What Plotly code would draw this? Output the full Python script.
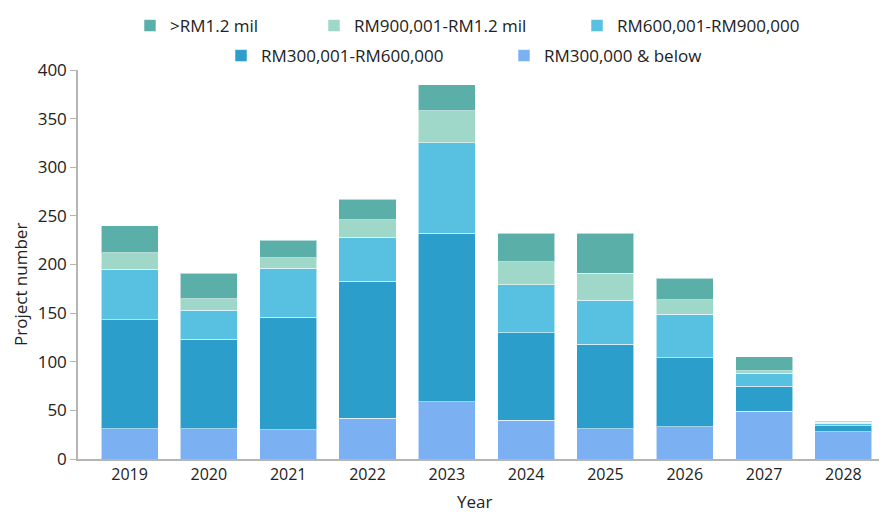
import plotly.graph_objects as go

years = ["2019", "2020", "2021", "2022", "2023", "2024", "2025", "2026", "2027", "2028"]

below_300k = [31, 31, 30, 42, 59, 40, 31, 33, 49, 28]
rm300k_600k = [112, 92, 116, 141, 173, 90, 87, 71, 26, 6]
rm600k_900k = [52, 30, 50, 45, 93, 49, 45, 45, 13, 3]
rm900k_1_2m = [17, 12, 11, 18, 33, 24, 28, 15, 3, 1]
above_1_2m = [28, 26, 18, 21, 27, 29, 41, 22, 14, 1]

series = [
    ("RM300,000 & below", below_300k, "#7bb1f2", "legend5"),
    ("RM300,001-RM600,000", rm300k_600k, "#2b9ecb", "legend4"),
    ("RM600,001-RM900,000", rm600k_900k, "#58c0e0", "legend3"),
    ("RM900,001-RM1.2 mil", rm900k_1_2m, "#9fd8c8", "legend2"),
    (">RM1.2 mil", above_1_2m, "#5aafa8", "legend"),
]

FONT = "Open Sans"
# page body has an 8px margin; figure is sized so it fills the rest of the window
OFF = 8
W, H = 887 - OFF, 515 - OFF
L, T, B = 78 - OFF, 70 - OFF, 56
PLOT_W = W - L
PLOT_H = H - T - B

fig = go.Figure()
for name, vals, color, leg in series:
    fig.add_trace(go.Bar(
        x=list(range(len(years))), y=vals, name=name, legend=leg, showlegend=True,
        marker=dict(color=color, line=dict(color="rgba(255,255,255,0.55)", width=1)),
    ))

# legend item positions (text start px, row center y px) in window pixels
leg_pos = {
    "legend": (174, 26),
    "legend2": (358, 26),
    "legend3": (621, 26),
    "legend4": (265, 56),
    "legend5": (548, 56),
}
legends = {}
for key, (px, py) in leg_pos.items():
    legends[key] = dict(
        orientation="h", xref="container", yref="container",
        x=(px - OFF - 44) / W, y=1 - (py - OFF) / H, xanchor="left", yanchor="middle",
        font=dict(family=FONT, size=17, color="#222222"),
        bgcolor="rgba(0,0,0,0)", itemwidth=30, visible=True,
    )

fig.update_layout(
    width=W, height=H,
    barmode="stack", bargap=0.28, showlegend=True,
    plot_bgcolor="white", paper_bgcolor="white",
    margin=dict(l=L, r=0, t=T, b=B, autoexpand=False),
    font=dict(family=FONT, size=16, color="#222222"),
    **legends,
)
fig.update_xaxes(
    tickmode="array", tickvals=list(range(len(years))), ticktext=years,
    range=[-0.65, 9.55], showline=True, linecolor="#b5b5b5", linewidth=2,
    ticks="", showgrid=False, tickfont=dict(size=16),
)
fig.update_yaxes(
    range=[0, 400], dtick=50, showline=True, linecolor="#b5b5b5", linewidth=1.5,
    ticks="outside", ticklen=6, tickcolor="#b5b5b5", showgrid=False,
    tickfont=dict(size=17),
)

# axis titles
fig.add_annotation(
    text="Project number", textangle=-90, showarrow=False,
    xref="paper", yref="paper", x=0, xanchor="center", xshift=(20 - OFF) - L,
    y=(T + PLOT_H - (285 - OFF)) / PLOT_H, yanchor="middle",
    font=dict(family=FONT, size=17, color="#222222"),
)
fig.add_annotation(
    text="Year", showarrow=False,
    xref="paper", yref="paper", x=(474 - OFF - L) / PLOT_W, xanchor="center",
    y=0, yanchor="middle", yshift=-((501 - OFF) - (T + PLOT_H)),
    font=dict(family=FONT, size=17, color="#222222"),
)

fig.write_html("out.html")
